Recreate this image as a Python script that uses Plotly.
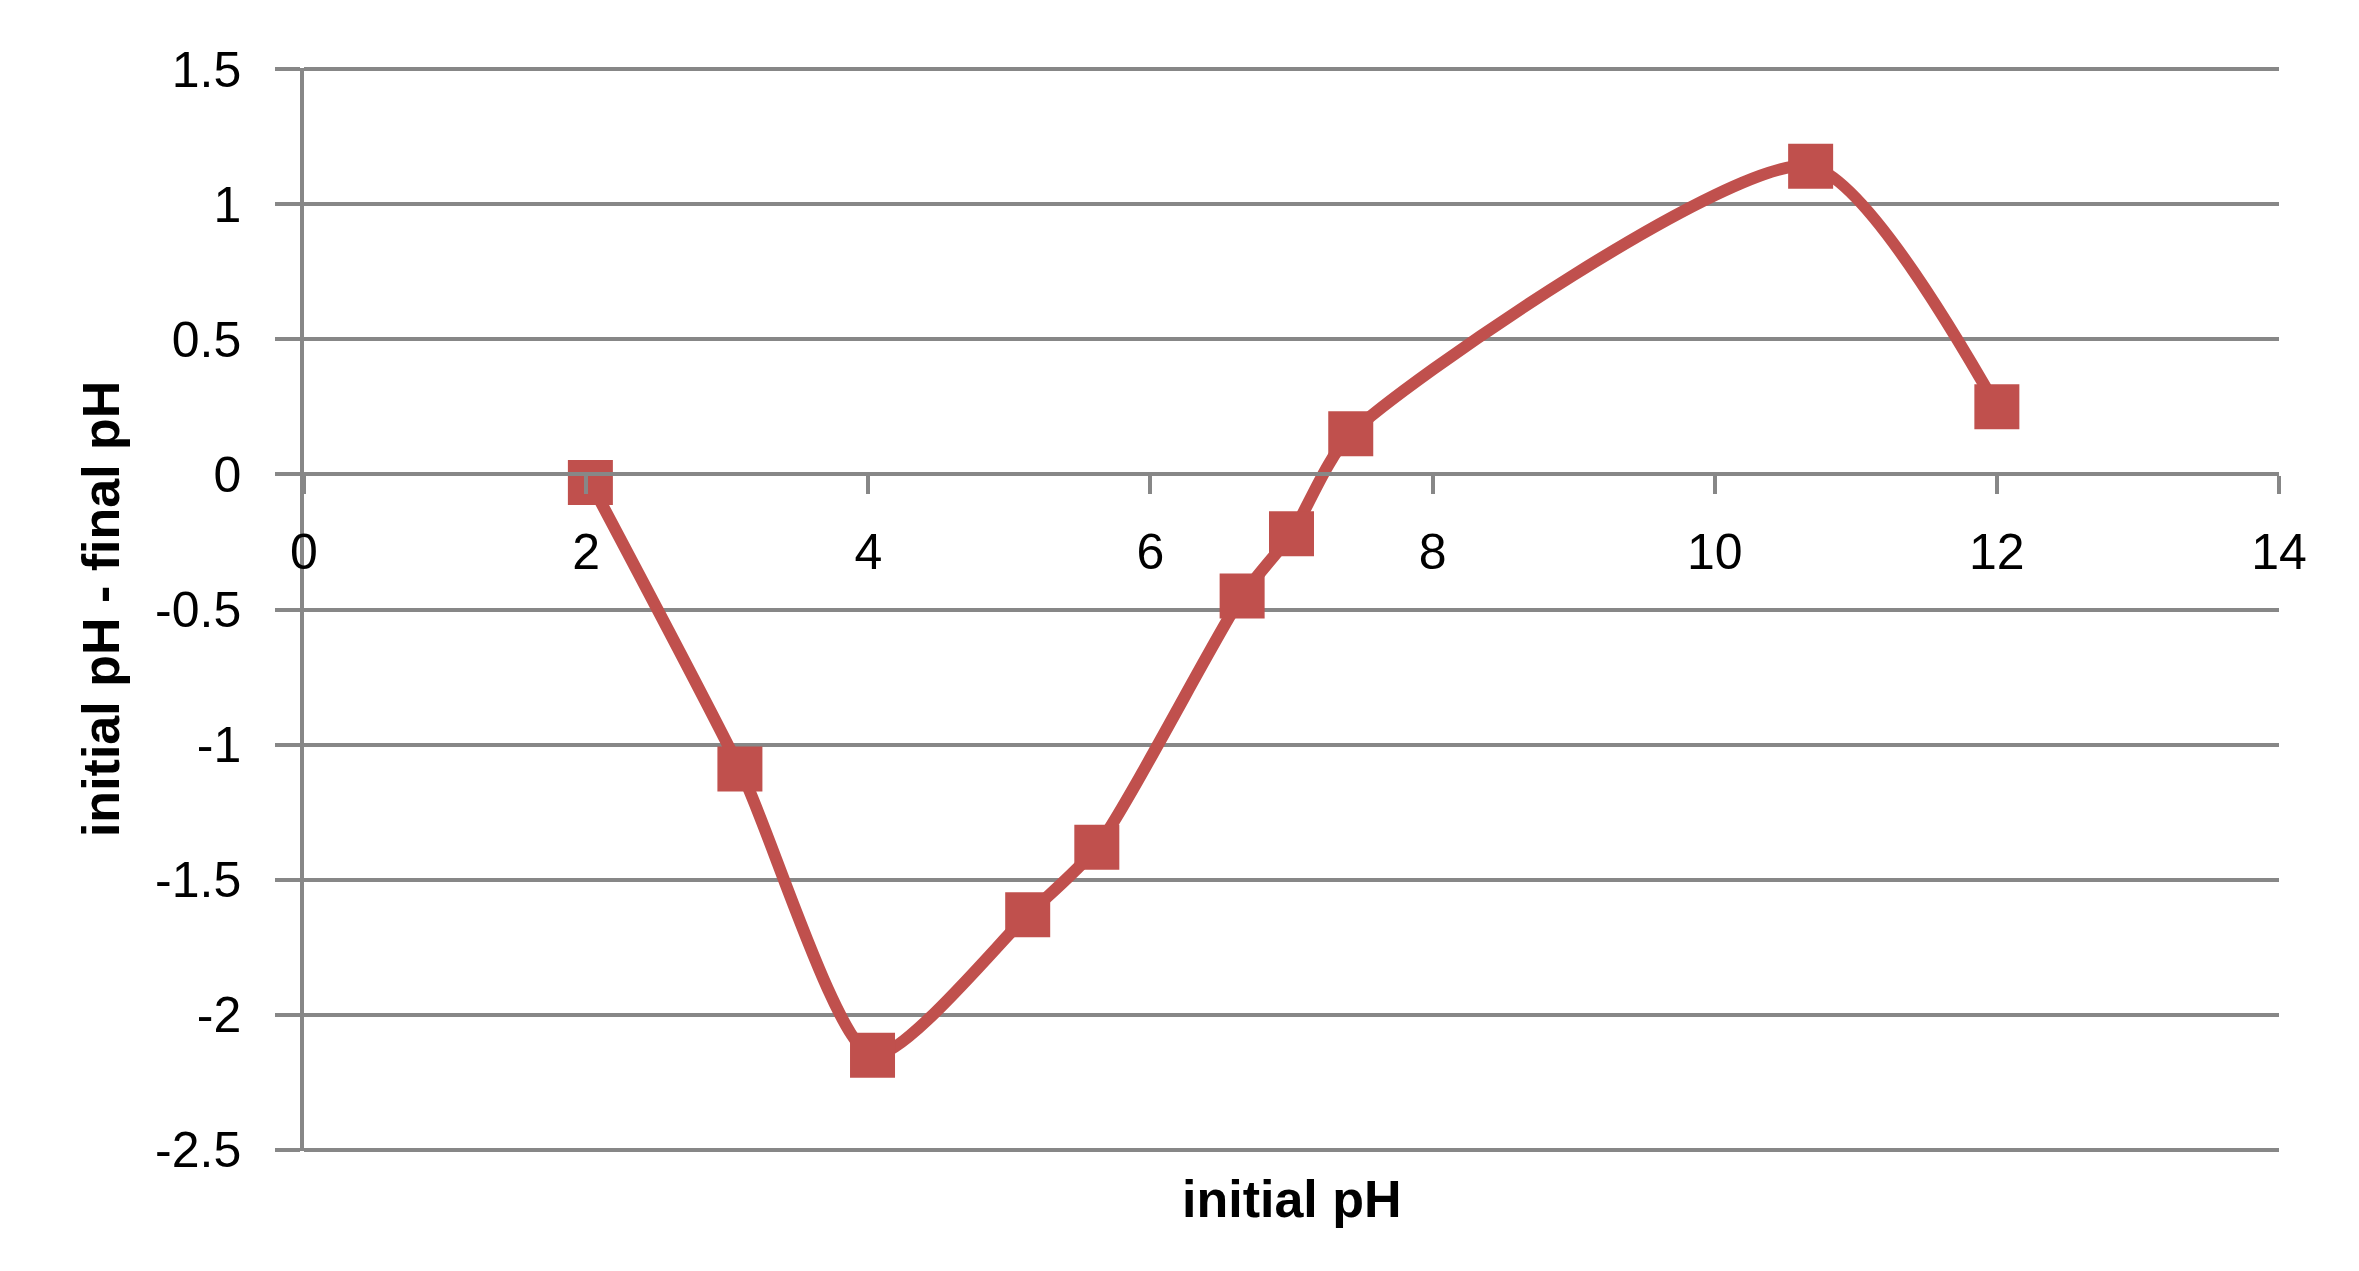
import plotly.graph_objects as go

# readings taken off the chart
initial_ph = [2.03, 3.09, 4.03, 5.13, 5.62, 6.65, 7.0, 7.42, 10.68, 12.0]
ph_change = [-0.03, -1.09, -2.15, -1.63, -1.38, -0.45, -0.22, 0.15, 1.14, 0.25]

x_tick_vals = [0, 2, 4, 6, 8, 10, 12, 14]
x_tick_text = ['0', '2', '4', '6', '8', '10', '12', '14']
y_tick_vals = [1.5, 1, 0.5, 0, -0.5, -1, -1.5, -2, -2.5]
y_tick_text = ['1.5', '1', '0.5', '0', '-0.5', '-1', '-1.5', '-2', '-2.5']

x_title = 'initial pH'
y_title = 'initial pH - final pH'

red = '#C0504D'
grey = '#878787'
tick_font = dict(family='Liberation Sans, Arial', size=50, color='#000000')
title_font = dict(family='Liberation Sans, Arial', size=52, color='#000000')

fig = go.Figure()
fig.add_trace(go.Scatter(x=initial_ph, y=ph_change,
                         mode='lines+markers',
                         line=dict(color=red, width=12, shape='spline', smoothing=0.65),
                         marker=dict(symbol='square', size=45, color=red,
                                     line=dict(width=0)),
                         showlegend=False))

y_min, y_max = -2.5, 1.5
pad = 0.004  # so the edge gridlines still get drawn
fig.update_xaxes(range=[0, 14], tickvals=x_tick_vals, ticktext=x_tick_text,
                 showgrid=False, zeroline=False,
                 showline=True, linecolor=grey, linewidth=3.5,
                 ticks='outside', ticklen=18, tickwidth=3.5, tickcolor=grey,
                 tickfont=tick_font, ticklabelstandoff=15,
                 anchor='free', position=(0 - y_min + pad) / (y_max - y_min + 2 * pad))
fig.update_yaxes(range=[y_min - pad, y_max + pad], tickvals=y_tick_vals, ticktext=y_tick_text,
                 showgrid=True, gridcolor=grey, gridwidth=3.5, zeroline=False,
                 showline=True, linecolor=grey, linewidth=3.5,
                 ticks='outside', ticklen=25, tickwidth=3.5, tickcolor=grey,
                 tickfont=tick_font, ticklabelstandoff=24)

fig.add_annotation(text='<b>' + x_title + '</b>', xref='paper', yref='paper',
                   x=0.5, y=-0.044, xanchor='center', yanchor='middle',
                   showarrow=False, font=title_font)
fig.add_annotation(text='<b>' + y_title + '</b>', xref='paper', yref='paper',
                   x=-0.103, y=0.5, xanchor='center', yanchor='middle',
                   textangle=-90, showarrow=False, font=title_font)

# the page body adds an 8px margin around the figure
fig.update_layout(width=2343, height=1255,
                  margin=dict(l=296, r=72, t=60, b=112),
                  plot_bgcolor='white', paper_bgcolor='white')

fig.write_html("out.html")
